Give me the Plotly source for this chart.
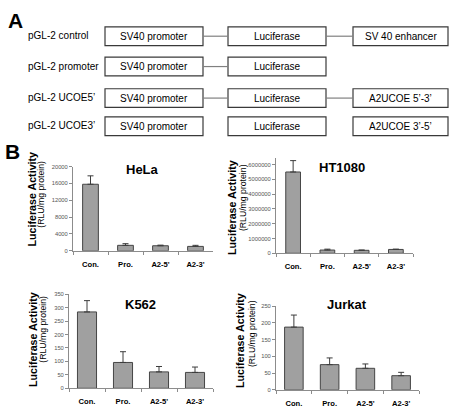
import plotly.graph_objects as go

W, H = 454, 410
FONT = "Liberation Sans, Arial, sans-serif"

# ---------------- data ----------------
categories = ["Con.", "Pro.", "A2-5'", "A2-3'"]

hela_values = [15800, 1300, 1200, 1050]
hela_errors = [2000, 400, 150, 250]

ht1080_values = [5500000, 220000, 200000, 260000]
ht1080_errors = [770000, 60000, 20000, 20000]

k562_values = [284, 96, 61, 59]
k562_errors = [42, 40, 20, 20]

jurkat_values = [187, 75, 64, 42]
jurkat_errors = [36, 20, 13, 10]

hela_ticks = [0, 4000, 8000, 12000, 16000, 20000]
ht1080_ticks = [0, 1000000, 2000000, 3000000, 4000000, 5000000, 6000000]
k562_ticks = [0, 50, 100, 150, 200, 250, 300, 350]
jurkat_ticks = [0, 50, 100, 150, 200, 250]

construct_names = ["pGL-2 control", "pGL-2 promoter", "pGL-2 UCOE5\u2019", "pGL-2 UCOE3\u2019"]
construct_elements = [
    ["SV40 promoter", "Luciferase", "SV 40 enhancer"],
    ["SV40 promoter", "Luciferase"],
    ["SV40 promoter", "Luciferase", "A2UCOE 5\u2019-3\u2019"],
    ["SV40 promoter", "Luciferase", "A2UCOE 3\u2019-5\u2019"],
]
construct_linked = [True, True, True, False]

# ---------------- helpers ----------------
def px(x):
    return x / W

def py(y):
    return 1 - y / H

fig = go.Figure()
annotations = []
shapes = []

# ---------------- Panel A: construct diagram ----------------
row_y = [33.7, 64.5, 96.5, 125]
box_x = [(105, 203), (228, 326), (353, 448)]
box_h = 19

annotations.append(dict(text="<b>A</b>", x=px(6), y=py(17.5), xref="paper", yref="paper",
                        xanchor="left", yanchor="middle", showarrow=False,
                        font=dict(family=FONT, size=21, color="black")))
annotations.append(dict(text="<b>B</b>", x=px(3), y=py(151), xref="paper", yref="paper",
                        xanchor="left", yanchor="middle", showarrow=False,
                        font=dict(family=FONT, size=21, color="black")))

for name, elems, linked, yc in zip(construct_names, construct_elements, construct_linked, row_y):
    annotations.append(dict(text=name, x=px(26), y=py(yc - 0.5), xref="paper", yref="paper",
                            xanchor="left", yanchor="middle", showarrow=False,
                            font=dict(family=FONT, size=10, color="black")))
    for i, el in enumerate(elems):
        x0, x1 = box_x[i]
        shapes.append(dict(type="rect", xref="paper", yref="paper",
                           x0=px(x0), x1=px(x1), y0=py(yc - box_h / 2), y1=py(yc + box_h / 2),
                           line=dict(color="#3a3a3a", width=1.2), fillcolor="white"))
        annotations.append(dict(text=el, x=px((x0 + x1) / 2), y=py(yc), xref="paper", yref="paper",
                                xanchor="center", yanchor="middle", showarrow=False,
                                font=dict(family=FONT, size=10, color="black")))
        if linked and i > 0:
            shapes.append(dict(type="line", xref="paper", yref="paper",
                               x0=px(box_x[i - 1][1]), x1=px(x0), y0=py(yc), y1=py(yc),
                               line=dict(color="#808080", width=1.2)))

# ---------------- Panel B: bar charts ----------------
panels = [
    dict(name="HeLa", vals=hela_values, errs=hela_errors, ticks=hela_ticks,
         xd=(73, 213), yd=(166, 251.5), rng=20000, top_px=166, zero_px=251.5, top_val=20000,
         bw=0.45, title_xy=(142.5, 169), lab_x=(32, 41.5), lab_y=(199.5, 194)),
    dict(name="HT1080", vals=ht1080_values, errs=ht1080_errors, ticks=ht1080_ticks,
         xd=(276, 413), yd=(157, 254), rng=None, top_px=164, zero_px=254, top_val=6000000,
         bw=0.43, title_xy=(342, 167), lab_x=(232, 243), lab_y=(208, 198)),
    dict(name="K562", vals=k562_values, errs=k562_errors, ticks=k562_ticks,
         xd=(69, 213), yd=(295.5, 391), rng=350, top_px=295.5, zero_px=391, top_val=350,
         bw=0.53, title_xy=(140, 306), lab_x=(33, 43.5), lab_y=(342, 331)),
    dict(name="Jurkat", vals=jurkat_values, errs=jurkat_errors, ticks=jurkat_ticks,
         xd=(276, 419), yd=(307.5, 392.5), rng=250, top_px=307.5, zero_px=392.5, top_val=250,
         bw=0.52, title_xy=(347, 306), lab_x=(240, 252), lab_y=(343, 336)),
]

layout_axes = {}
for k, p in enumerate(panels):
    n = "" if k == 0 else str(k + 1)
    xa, ya = "x" + n, "y" + n
    if p["rng"] is None:
        scale = p["top_val"] / (p["zero_px"] - p["top_px"])
        ymax = scale * (p["zero_px"] - p["yd"][0])
    else:
        ymax = p["rng"]
    fig.add_trace(go.Bar(
        x=categories, y=p["vals"], xaxis=xa, yaxis=ya, width=p["bw"],
        marker=dict(color="#a0a0a0", line=dict(color="#454545", width=1)),
        error_y=dict(type="data", array=p["errs"], arrayminus=[0] * len(p["errs"]),
                     symmetric=False, color="#3c3c3c", thickness=1, width=3),
        showlegend=False,
    ))
    layout_axes["xaxis" + n] = dict(
        domain=[px(p["xd"][0]), px(p["xd"][1])], anchor=ya,
        type="category", range=[-0.5, len(categories) - 0.5],
        tickvals=categories, ticktext=["<b>%s</b>" % c for c in categories],
        tickfont=dict(family=FONT, size=7.6, color="black"),
        showline=True, linecolor="#8c8c8c", linewidth=1,
        ticks="outside", tickson="boundaries", ticklen=3, tickcolor="#8c8c8c",
        ticklabelstandoff=6, showgrid=False, zeroline=False, fixedrange=True,
    )
    layout_axes["yaxis" + n] = dict(
        domain=[py(p["yd"][1]), py(p["yd"][0])], anchor=xa,
        range=[0, ymax], tickvals=p["ticks"], ticktext=[str(t) for t in p["ticks"]],
        tickfont=dict(family=FONT, size=5.8, color="#555555"),
        showline=True, linecolor="#8c8c8c", linewidth=1,
        ticks="outside", ticklen=3, tickcolor="#8c8c8c",
        showgrid=False, zeroline=False, fixedrange=True,
    )
    annotations.append(dict(text="<b>%s</b>" % p["name"], x=px(p["title_xy"][0]), y=py(p["title_xy"][1]),
                            xref="paper", yref="paper", xanchor="center", yanchor="middle",
                            showarrow=False, font=dict(family=FONT, size=13, color="black")))
    annotations.append(dict(text="<b>Luciferase Activity</b>", x=px(p["lab_x"][0]), y=py(p["lab_y"][0]),
                            xref="paper", yref="paper", xanchor="center", yanchor="middle",
                            textangle=-90, showarrow=False,
                            font=dict(family=FONT, size=10.7, color="black")))
    annotations.append(dict(text="(RLU/mg protein)", x=px(p["lab_x"][1]), y=py(p["lab_y"][1]),
                            xref="paper", yref="paper", xanchor="center", yanchor="middle",
                            textangle=-90, showarrow=False,
                            font=dict(family=FONT, size=8.7, color="black")))

fig.update_layout(
    width=W, height=H, margin=dict(l=0, r=0, t=0, b=0),
    paper_bgcolor="white", plot_bgcolor="white",
    font=dict(family=FONT), showlegend=False,
    annotations=annotations, shapes=shapes,
    **layout_axes,
)

fig.write_html("out.html", config={"displayModeBar": False},
               post_script="document.body.style.margin='0';")
